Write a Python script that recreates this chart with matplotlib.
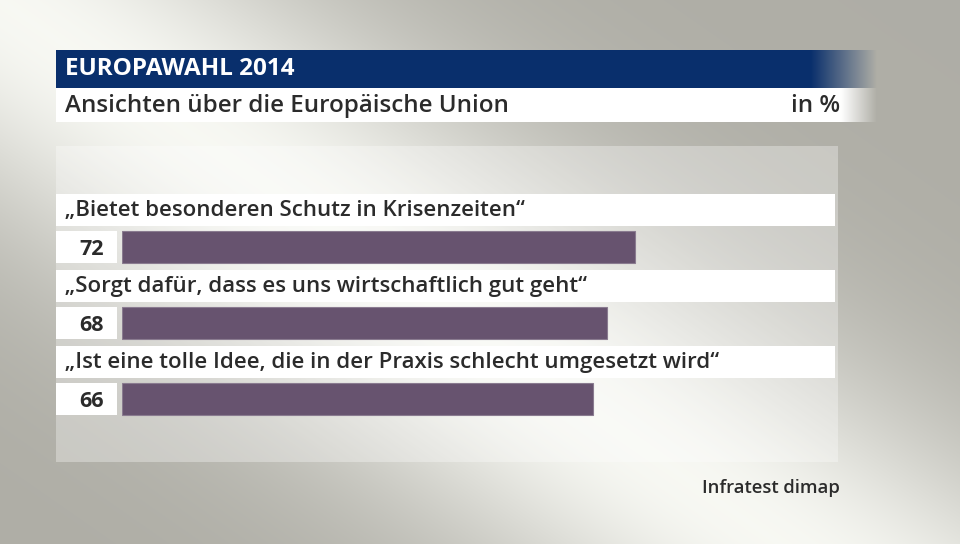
import numpy as np
import matplotlib.pyplot as plt
from matplotlib.patches import Rectangle

plt.rcParams['font.family'] = ['Open Sans', 'DejaVu Sans']

# data
labels = ['„Bietet besonderen Schutz in Krisenzeiten“',
          '„Sorgt dafür, dass es uns wirtschaftlich gut geht“',
          '„Ist eine tolle Idee, die in der Praxis schlecht umgesetzt wird“']
values = [72, 68, 66]
header = 'EUROPAWAHL 2014'
title = 'Ansichten über die Europäische Union'
unit = 'in %'
source = 'Infratest dimap'

W, H = 960, 544
fig = plt.figure(figsize=(W / 100, H / 100), dpi=100)

# background axes in pixel coordinates
bg = fig.add_axes([0, 0, 1, 1])
bg.set_xlim(0, W)
bg.set_ylim(H, 0)
bg.axis('off')

# diagonal light band gradient
xx, yy = np.meshgrid(np.arange(W) + 0.5, np.arange(H) + 0.5)
s = (xx * 544 - yy * 780) / 950.0
w = np.exp(-(s / 185.0) ** 2)[..., None]
grey = np.array([0.686, 0.682, 0.651])
light = np.array([0.970, 0.973, 0.953])
img = grey * (1 - w) + light * w
bg.imshow(img, extent=(0, W, H, 0), aspect='auto', zorder=0)

# lighter panel behind the chart
bg.add_patch(Rectangle((56, 146), 782, 316, facecolor='white', alpha=0.32,
                       edgecolor='none', zorder=1))


def faded_bar(x0, x1, y0, y1, color, fade0, fade1):
    n = 400
    xs = np.linspace(x0, x1, n)
    a = np.clip((fade1 - xs) / (fade1 - fade0), 0, 1)
    rgba = np.zeros((1, n, 4))
    rgba[..., :3] = color
    rgba[0, :, 3] = a
    bg.imshow(rgba, extent=(x0, x1, y1, y0), aspect='auto', zorder=2,
              interpolation='bilinear')


faded_bar(56, 880, 50, 88, np.array([0.039, 0.188, 0.427]), 812, 878)
faded_bar(56, 880, 88, 122, np.array([1.0, 1.0, 1.0]), 842, 878)
bg.set_xlim(0, W)
bg.set_ylim(H, 0)

bg.text(65, 69, header, color='white', fontsize=17.5, fontweight='bold',
        va='center', ha='left', zorder=3)
bg.text(65, 106, title, color='#2b2b2b', fontsize=17.4, fontweight='semibold',
        va='center', ha='left', zorder=3)
bg.text(840, 106, unit, color='#2b2b2b', fontsize=17.4, fontweight='semibold',
        va='center', ha='right', zorder=3)
bg.text(840, 488, source, color='#2b2b2b', fontsize=13.3, fontweight='semibold',
        va='center', ha='right', zorder=3)

# data axes: 0..100 spans x 122..835 px
ax = fig.add_axes([122 / W, 126 / H, 713 / W, 228 / H])
ax.set_xlim(0, 100)
ax.set_ylim(2.25, -0.75)
ax.axis('off')
ax.patch.set_alpha(0)

ypos = np.arange(len(values))
unit_px = 713 / 100.0
left_edge = (56 - 122) / unit_px
for i, (lab, v) in enumerate(zip(labels, values)):
    ax.add_patch(Rectangle((left_edge, i - 0.487 - 0.21), 100 - left_edge, 0.42,
                           facecolor='white', edgecolor='none', clip_on=False))
    ax.add_patch(Rectangle((left_edge, i - 0.21), (117 - 56) / unit_px, 0.42,
                           facecolor='white', edgecolor='none', clip_on=False))
    ax.text((65 - 122) / unit_px, i - 0.475, lab, color='#2b2b2b', fontsize=16,
            fontweight='semibold', va='center', ha='left', clip_on=False)
    ax.text((104 - 122) / unit_px, i + 0.03, str(v), color='#2b2b2b', fontsize=15.5,
            fontweight='bold', va='center', ha='right', clip_on=False)

ax.barh(ypos, values, height=0.42, color='#67536f', edgecolor='#8a7b90',
        linewidth=0.8)

fig.savefig('out.png', dpi=100)
